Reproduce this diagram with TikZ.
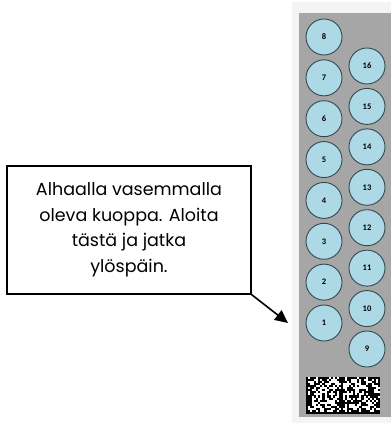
\documentclass[tikz,border=0pt]{standalone}
\usepackage{fontspec}
\setmainfont{Poppins}
\newfontfamily\numfont{Carlito}
\usetikzlibrary{arrows.meta}
\definecolor{panelgray}{HTML}{A6A6A6}
\definecolor{framegray}{HTML}{F4F4F4}
\definecolor{holefill}{HTML}{ADD8E6}
\definecolor{holeedge}{HTML}{2F4A50}
\tikzset{
  hole/.style={circle, draw=holeedge, line width=0.9pt, fill=holefill,
    minimum size=36pt, inner sep=0pt, font=\numfont\bfseries\fontsize{8.5}{9}\selectfont},
  callout/.style={draw=black, line width=1.3pt, fill=white, minimum width=244pt,
    minimum height=128pt, align=center, inner sep=0pt,
    font=\fontsize{17.5}{25.5}\selectfont},
  pointer/.style={-{Triangle[length=13pt,width=12pt]}, line width=1.6pt, black}
}
\begin{document}
\begin{tikzpicture}[x=1pt,y=-1pt]
\useasboundingbox[fill=white] (0,0) rectangle (391,423);
% frame and panel
\fill[framegray] (292,2) rectangle (391,423);
\fill[panelgray] (299,13) rectangle (391,417);
% holes left column 1..8
\foreach \k in {1,...,8}{
  \node[hole] (c\k) at (324,{323-(\k-1)*40.86}) {\k};
}
% holes right column 9..16
\foreach \k in {9,...,16}{
  \node[hole] (c\k) at (367,{349-(\k-9)*40.43}) {\k};
}
% data matrix code
\fill[white] (306,377) rectangle (380,414);
\pgfmathsetseed{11}
\foreach \i in {0,...,35}{
  \foreach \j in {0,...,17}{
    \pgfmathrandominteger{\r}{0}{1}
    \ifnum\r=1
      \fill[black] ({306+\i*2.055},{377+\j*2.055}) rectangle ++(2.1,2.1);
    \fi
  }
}
% finder patterns
\fill[black] (306,377) rectangle (308.1,414);
\fill[black] (306,411.9) rectangle (380,414);
\fill[black] (341.0,377) rectangle (343.1,414);
\foreach \j in {0,2,...,16}{
  \fill[black] (377.9,{377+\j*2.055}) rectangle ++(2.1,2.1);
  \fill[black] (338.9,{377+\j*2.055}) rectangle ++(2.1,2.1);
}
\foreach \i in {0,2,...,34}{
  \fill[black] ({306+\i*2.055},377) rectangle ++(2.1,2.1);
}
% callout
\node[callout] (box) at (129,230) {Alhaalla vasemmalla\\oleva kuoppa. Aloita\\tästä ja jatka\\ylöspäin.};
\coordinate (tip) at (288,323);
\draw[pointer] (box.south east) -- (tip);
\end{tikzpicture}
\end{document}
